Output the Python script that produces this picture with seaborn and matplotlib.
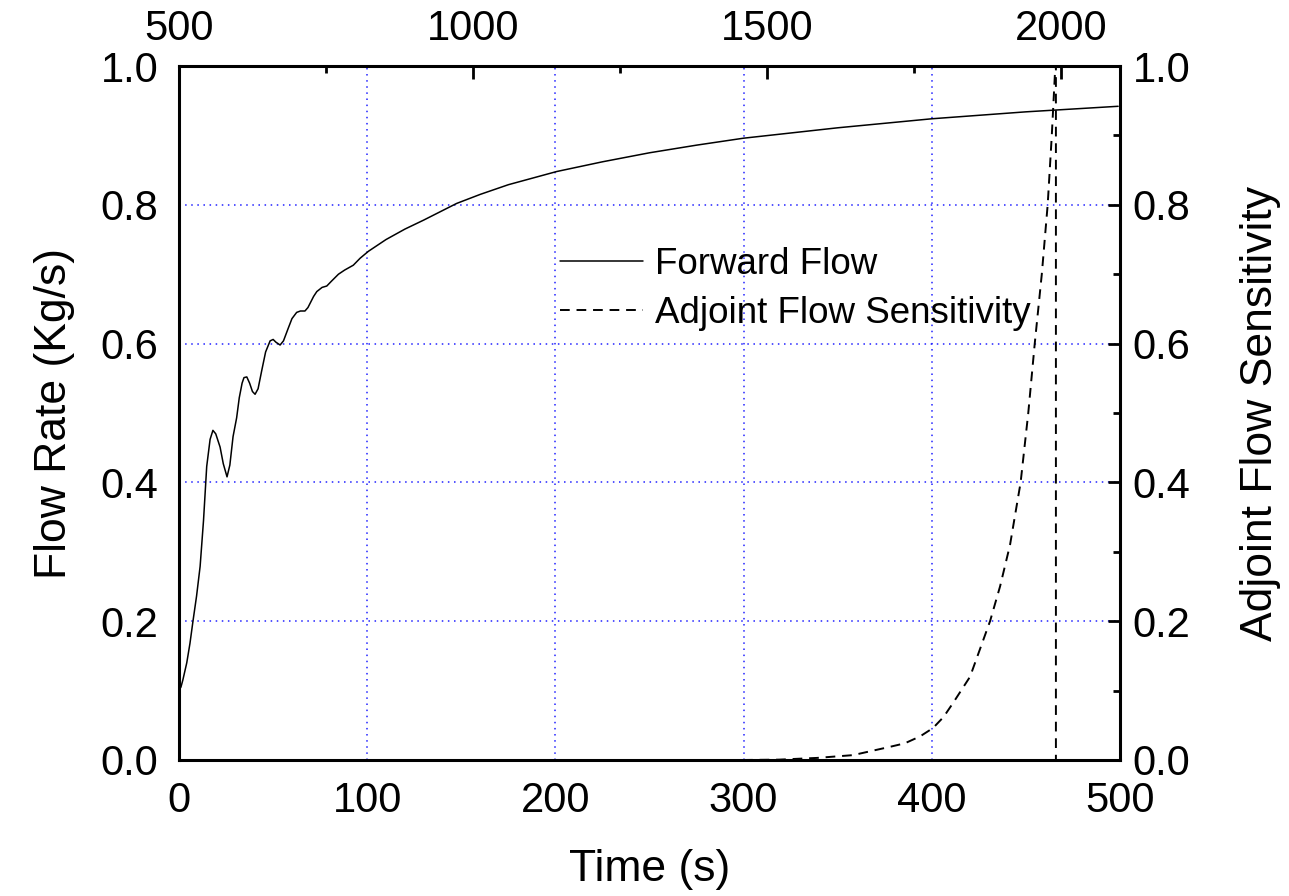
import matplotlib
matplotlib.use('Agg')
import matplotlib.pyplot as plt
from matplotlib.ticker import MultipleLocator
from matplotlib.lines import Line2D
import pandas as pd
import seaborn as sns

# forward flow (time s, flow kg/s)
fwd_time = [0, 1, 2, 4.1, 5.8, 7.4, 9.3, 11.2, 13, 14.7, 16.5, 18, 19.5, 21.8, 23.5,
            25.5, 27, 28.7, 30.6, 32, 33.5, 34.5, 36, 37.5, 39, 40.4, 42, 44, 46, 48.4,
            50, 51.5, 53.7, 55.5, 58, 60, 62.5, 64.5, 66.9, 68.5, 70, 71.5, 73.2, 76,
            78.5, 81, 84.7, 88, 92.6, 96.2, 100.6, 110, 120, 130, 147.5, 160, 175,
            200.7, 225, 250, 275, 299.9, 350, 400, 450, 499]
fwd_flow = [0.101, 0.105, 0.115, 0.14, 0.168, 0.20, 0.236, 0.279, 0.345, 0.423, 0.462,
            0.475, 0.470, 0.451, 0.427, 0.408, 0.425, 0.466, 0.493, 0.522, 0.543, 0.551,
            0.552, 0.543, 0.531, 0.527, 0.535, 0.562, 0.588, 0.604, 0.606, 0.602, 0.598,
            0.604, 0.622, 0.636, 0.645, 0.647, 0.647, 0.652, 0.660, 0.668, 0.675, 0.681,
            0.683, 0.690, 0.700, 0.706, 0.713, 0.723, 0.733, 0.750, 0.765, 0.778, 0.802,
            0.815, 0.829, 0.848, 0.862, 0.875, 0.886, 0.896, 0.911, 0.924, 0.934, 0.942]

# adjoint sensitivity against the top axis
adj_time = [1459, 1520, 1585, 1646, 1709, 1734, 1760, 1782, 1800, 1816, 1845, 1879,
            1896, 1913, 1923, 1931, 1944, 1955, 1967, 1977, 1984, 1990, 1991, 1991]
adj_sens = [0.0, 0.0005, 0.003, 0.007, 0.019, 0.024, 0.034, 0.046, 0.062, 0.082, 0.120,
            0.20, 0.25, 0.31, 0.36, 0.40, 0.50, 0.60, 0.70, 0.80, 0.90, 1.0, 1.05, 0.0]

fwd = pd.DataFrame({'t': fwd_time, 'q': fwd_flow})
adj = pd.DataFrame({'t': adj_time, 's': adj_sens})

sns.set_style('white')
plt.rcParams['font.family'] = ['Liberation Sans', 'DejaVu Sans']
plt.rcParams['text.color'] = 'black'
plt.rcParams['axes.labelcolor'] = 'black'
plt.rcParams['xtick.color'] = 'black'
plt.rcParams['ytick.color'] = 'black'

fig = plt.figure(figsize=(12.89, 8.96), dpi=100)
ax = fig.add_axes([0.1389, 0.1518, 0.73, 0.7745])

sns.lineplot(data=fwd, x='t', y='q', ax=ax, color='black', lw=1.1,
             sort=False, estimator=None)
ax.set_xlim(0, 500)
ax.set_ylim(0, 1)
ax.xaxis.set_major_locator(MultipleLocator(100))
ax.xaxis.set_minor_locator(MultipleLocator(50))
ax.yaxis.set_major_locator(MultipleLocator(0.2))
ax.yaxis.set_minor_locator(MultipleLocator(0.1))
ax.yaxis.set_major_formatter(plt.FormatStrFormatter('%.1f'))
ax.grid(True, which='major', color='#2222ff', ls=(0, (1, 3)), lw=1.1)
ax.tick_params(which='major', direction='out', length=9, width=2, labelsize=30,
               top=False, right=False, pad=6)
ax.tick_params(which='minor', direction='out', length=5, width=2,
               top=False, right=False)
ax.set_xlabel('Time (s)', fontsize=32, labelpad=20)
ax.set_ylabel('Flow Rate (Kg/s)', fontsize=32, labelpad=18)
for sp in ax.spines.values():
    sp.set_linewidth(2.2)
    sp.set_color('black')

# second axes: top x and right y
ax2 = fig.add_axes(ax.get_position(), frameon=False)
sns.lineplot(data=adj, x='t', y='s', ax=ax2, color='black', lw=1.4,
             sort=False, estimator=None)
ax2.lines[0].set_dashes((5, 3.5))
ax2.set_xlim(500, 2100)
ax2.set_ylim(0, 1)
ax2.xaxis.tick_top()
ax2.yaxis.tick_right()
ax2.yaxis.set_label_position('right')
ax2.xaxis.set_major_locator(MultipleLocator(500))
ax2.xaxis.set_minor_locator(MultipleLocator(250))
ax2.yaxis.set_major_locator(MultipleLocator(0.2))
ax2.yaxis.set_minor_locator(MultipleLocator(0.1))
ax2.yaxis.set_major_formatter(plt.FormatStrFormatter('%.1f'))
ax2.tick_params(which='major', direction='in', length=9, width=2, labelsize=30,
                bottom=False, left=False)
ax2.tick_params(axis='x', which='major', pad=12)
ax2.tick_params(axis='y', which='major', pad=9)
ax2.tick_params(which='minor', direction='in', length=5, width=2,
                bottom=False, left=False)
ax2.set_xlabel('')
ax2.set_ylabel('Adjoint Flow Sensitivity', fontsize=32, labelpad=36)
ax2.grid(False)

handles = [Line2D([], [], color='black', lw=1.1),
           Line2D([], [], color='black', lw=1.4, dashes=(5, 3.5))]
fig.legend(handles, ['Forward Flow', 'Adjoint Flow Sensitivity'],
           loc='upper left', bbox_to_anchor=(0.409, 0.761), frameon=False,
           fontsize=26.5, handlelength=2.25, handletextpad=0.33, labelspacing=0.38)

fig.savefig('out.png', dpi=100)
